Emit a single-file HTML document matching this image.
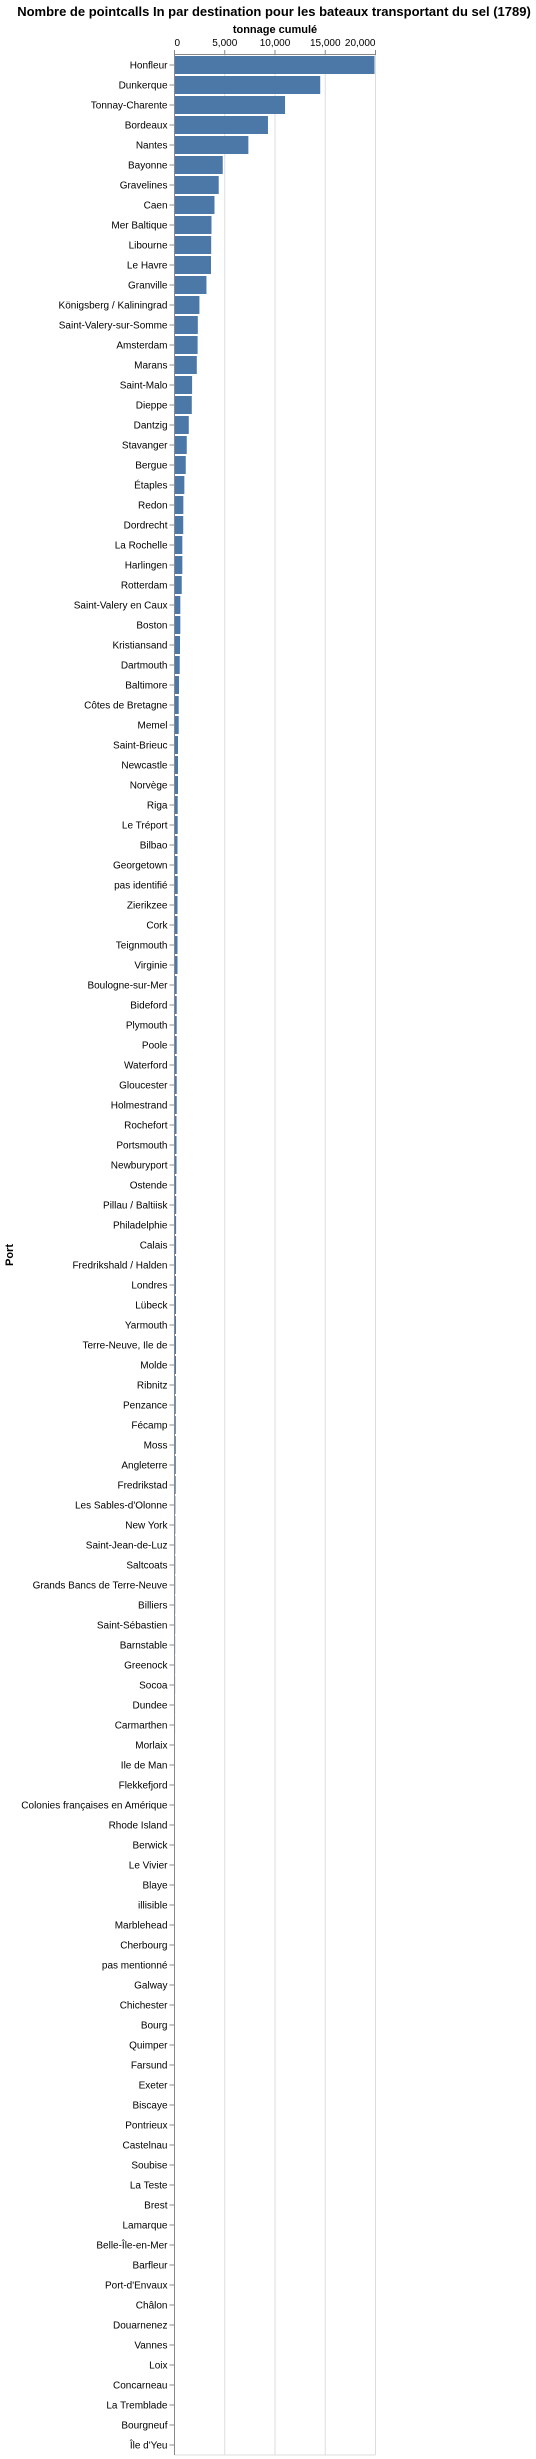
<!DOCTYPE html>
<html><head><meta charset="utf-8">
<style>
html,body{margin:0;padding:0;background:#fff;}
svg{display:block;font-family:"Liberation Sans",Arial,sans-serif;}
</style></head>
<body>
<svg id="chart" width="536" height="2459" viewBox="0 0 536 2459" xmlns="http://www.w3.org/2000/svg">
<text x="274" y="16" text-anchor="middle" font-size="13" font-weight="bold" fill="#000">Nombre de pointcalls In par destination pour les bateaux transportant du sel (1789)</text>
<text x="275" y="33" text-anchor="middle" font-size="11" font-weight="bold" fill="#000">tonnage cumulé</text>
<text transform="translate(13,1255) rotate(-90)" text-anchor="middle" font-size="11" font-weight="bold" fill="#000">Port</text>
<g id="grid"></g><g id="bars"></g><g id="axes"></g>
</svg>
<script>
const categories = ["Honfleur","Dunkerque","Tonnay-Charente","Bordeaux","Nantes","Bayonne","Gravelines","Caen","Mer Baltique","Libourne","Le Havre","Granville","Königsberg / Kaliningrad","Saint-Valery-sur-Somme","Amsterdam","Marans","Saint-Malo","Dieppe","Dantzig","Stavanger","Bergue","Étaples","Redon","Dordrecht","La Rochelle","Harlingen","Rotterdam","Saint-Valery en Caux","Boston","Kristiansand","Dartmouth","Baltimore","Côtes de Bretagne","Memel","Saint-Brieuc","Newcastle","Norvège","Riga","Le Tréport","Bilbao","Georgetown","pas identifié","Zierikzee","Cork","Teignmouth","Virginie","Boulogne-sur-Mer","Bideford","Plymouth","Poole","Waterford","Gloucester","Holmestrand","Rochefort","Portsmouth","Newburyport","Ostende","Pillau / Baltiisk","Philadelphie","Calais","Fredrikshald / Halden","Londres","Lübeck","Yarmouth","Terre-Neuve, Ile de","Molde","Ribnitz","Penzance","Fécamp","Moss","Angleterre","Fredrikstad","Les Sables-d'Olonne","New York","Saint-Jean-de-Luz","Saltcoats","Grands Bancs de Terre-Neuve","Billiers","Saint-Sébastien","Barnstable","Greenock","Socoa","Dundee","Carmarthen","Morlaix","Ile de Man","Flekkefjord","Colonies françaises en Amérique","Rhode Island","Berwick","Le Vivier","Blaye","illisible","Marblehead","Cherbourg","pas mentionné","Galway","Chichester","Bourg","Quimper","Farsund","Exeter","Biscaye","Pontrieux","Castelnau","Soubise","La Teste","Brest","Lamarque","Belle-Île-en-Mer","Barfleur","Port-d'Envaux","Châlon","Douarnenez","Vannes","Loix","Concarneau","La Tremblade","Bourgneuf","Île d'Yeu"];
const values = [19900,14500,11000,9300,7350,4800,4400,3980,3680,3650,3630,3180,2480,2320,2300,2220,1750,1720,1420,1220,1120,980,880,870,780,780,720,580,580,550,520,450,420,420,350,350,350,320,320,300,300,320,300,300,300,300,220,220,220,220,220,220,220,200,200,200,170,170,160,160,150,150,150,150,150,150,130,130,130,130,130,120,90,85,80,80,75,70,70,65,60,60,55,55,50,50,45,45,40,40,40,35,35,35,30,30,30,25,25,25,22,20,20,18,18,15,15,12,12,10,10,10,8,8,6,6,5,5,4,3];
const xTicks = [0,5000,10000,15000,20000];
const xTickLabels = ["0","5,000","10,000","15,000","20,000"];
const NS="http://www.w3.org/2000/svg";
const X0=174.5, W=201, XMAX=20000, Y0=55, STEP=20, BAR=18;
const H=STEP*categories.length;
function xs(v){return X0+v/XMAX*W;}
function ys(i){return Y0+i*STEP;}
function mk(t,a,p){const e=document.createElementNS(NS,t);for(const k in a)e.setAttribute(k,a[k]);p.appendChild(e);return e;}
const grid=document.getElementById('grid'),bars=document.getElementById('bars'),axes=document.getElementById('axes');
xTicks.forEach((t,i)=>{
  const g=mk('line',{x1:xs(t),x2:xs(t),y1:Y0,y2:Y0+H,stroke:'#ddd','stroke-width':1},grid);
  
  
  const tk=mk('line',{x1:xs(t),x2:xs(t),y1:Y0-5,y2:Y0,stroke:'#888'},axes);
  
  
  const anchor=i===0?'start':(i===xTicks.length-1?'end':'middle');
  const lb=mk('text',{x:xs(t),y:Y0-9,'text-anchor':anchor,'font-size':10,fill:'#000'},axes);
  lb.textContent=xTickLabels[i];
  
  
});
const ax=mk('line',{x1:X0,x2:X0+W,y1:Y0-0.5,y2:Y0-0.5,stroke:'#888'},axes);


const ay=mk('line',{x1:X0,x2:X0,y1:Y0,y2:Y0+H,stroke:'#888'},axes);


mk('line',{x1:X0,x2:X0+W,y1:Y0+H,y2:Y0+H,stroke:'#ddd'},grid);
categories.forEach((c,i)=>{
  const r=mk('rect',{x:X0,y:ys(i)+1,width:Math.max(0,xs(values[i])-X0),height:BAR,fill:'#4c78a8'},bars);
  
  
  const tk=mk('line',{x1:X0-5,x2:X0,y1:ys(i)+STEP/2,y2:ys(i)+STEP/2,stroke:'#888'},axes);
  
  
  const lb=mk('text',{x:X0-7,y:ys(i)+STEP/2+3.5,'text-anchor':'end','font-size':10,fill:'#000'},axes);
  lb.textContent=c;
  
  
});
</script>
</body></html>
